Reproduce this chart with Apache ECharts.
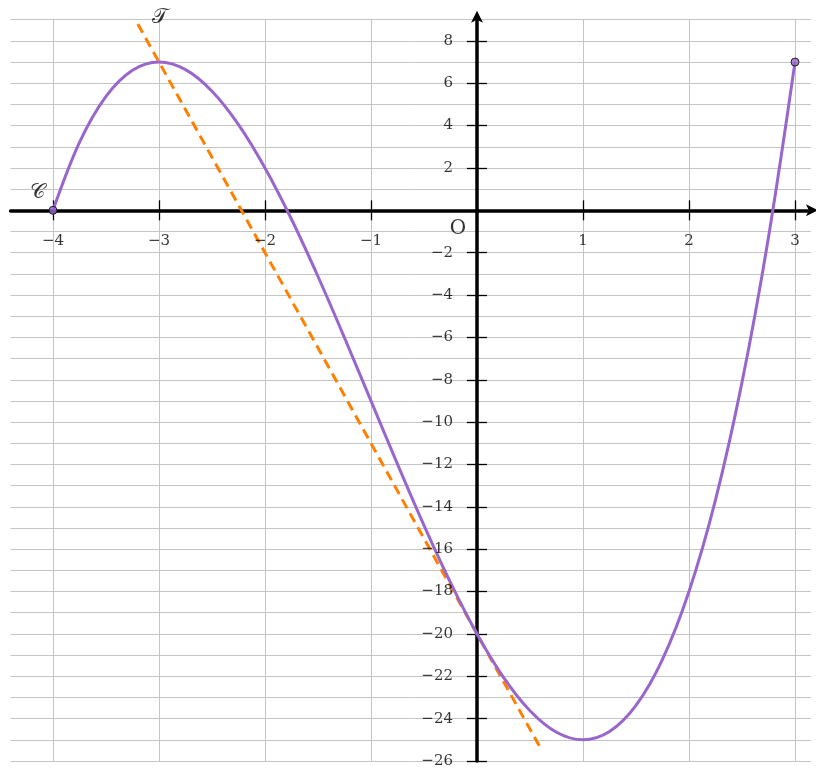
<!DOCTYPE html>
<html>
<head>
<meta charset="utf-8">
<script src="https://cdn.jsdelivr.net/npm/echarts@6/dist/echarts.min.js"></script>
<style>html,body{margin:0;padding:0;background:#fff}#c{width:816px;height:769px}</style>
</head>
<body>
<div id="c"></div>
<script>
const curveX = [-4, -3.75, -3.5, -3.25, -3, -2.75, -2.5, -2.25, -2, -1.75, -1.5, -1.25, -1, -0.75, -0.5, -0.25, 0, 0.25, 0.5, 0.75, 1, 1.25, 1.5, 1.75, 2, 2.25, 2.5, 2.75, 3];
const curveY = [0, 3.203, 5.375, 6.609, 7, 6.641, 5.625, 4.047, 2, -0.422, -3.125, -6.016, -9, -11.984, -14.875, -17.578, -20, -22.047, -23.625, -24.641, -25, -24.609, -23.375, -21.203, -18, -13.672, -8.125, -1.266, 7];
// Tangent T (dashed)
const tangentX = [-3.2, 0.6];
const tangentY = [8.8, -25.4];
// Marked end points
const pointX = [-4, 3];
const pointY = [0, 7];
// Tick labels
const xTicks = [-4, -3, -2, -1, 1, 2, 3];
const yTicks = [-26, -24, -22, -20, -18, -16, -14, -12, -10, -8, -6, -4, -2, 2, 4, 6, 8];

const PURPLE = '#9966cc';
const ORANGE = '#ff7f00';
const SERIF = 'DejaVu Serif';
const fmt = v => String(v).replace('-', '\u2212');

const chart = echarts.init(document.getElementById('c'), null, {renderer: 'canvas'});
const tickStyle = {color: '#000', width: 1.3};
const gridColor = '#c4c4c4';

const hiddenLabelSymbol = {symbol: 'circle', symbolSize: 1, itemStyle: {color: 'rgba(0,0,0,0)'}};

chart.setOption({
  animation: false,
  backgroundColor: '#fff',
  grid: {left: 10.6, top: 19.7, width: 800.3, height: 741.3, containLabel: false, outerBoundsMode: 'none'},
  xAxis: [{
    type: 'value', min: -4.4, max: 3.15, position: 'bottom',
    axisLine: {show: true, onZero: true, symbol: ['none', 'arrow'], symbolSize: [9, 12], symbolOffset: [0, 7],
      lineStyle: {color: '#000', width: 3.5}},
    axisTick: {show: true, customValues: xTicks, length: 10, inside: false, lineStyle: tickStyle},
    axisLabel: {show: false},
    splitLine: {show: true, lineStyle: {color: gridColor, width: 1}}
  }, {
    type: 'value', min: -4.4, max: 3.15, position: 'top',
    axisLine: {show: true, onZero: true, lineStyle: {color: '#000', width: 0, opacity: 0}},
    axisTick: {show: true, customValues: xTicks, length: 10, inside: false, lineStyle: tickStyle},
    axisLabel: {show: false},
    splitLine: {show: false}
  }],
  yAxis: [{
    type: 'value', min: -26, max: 9, position: 'left',
    axisLine: {show: true, onZero: true, symbol: ['none', 'arrow'], symbolSize: [9, 12], symbolOffset: [0, 9],
      lineStyle: {color: '#000', width: 3.5}},
    axisTick: {show: true, customValues: yTicks, length: 10, inside: false, lineStyle: tickStyle},
    axisLabel: {show: false},
    splitLine: {show: false}
  }, {
    type: 'value', min: -26, max: 9, position: 'right',
    axisLine: {show: true, onZero: true, lineStyle: {color: '#000', width: 0, opacity: 0}},
    axisTick: {show: true, customValues: yTicks, length: 10, inside: false, lineStyle: tickStyle},
    axisLabel: {show: false},
    splitLine: {show: false}
  }, {
    type: 'value', min: -26, max: 9, interval: 1, position: 'right',
    axisLine: {show: false, onZero: false},
    axisTick: {show: false},
    axisLabel: {show: false},
    splitLine: {show: true, lineStyle: {color: gridColor, width: 1}},
    z: 0
  }],
  series: [{
    name: 'T', type: 'line', xAxisIndex: 0, yAxisIndex: 0,
    data: tangentX.map((x, i) => [x, tangentY[i]]),
    symbol: 'none',
    lineStyle: {color: ORANGE, width: 3, type: [10, 6]},
    z: 3
  }, {
    name: 'C', type: 'line', xAxisIndex: 0, yAxisIndex: 0,
    data: curveX.map((x, i) => [x, curveY[i]]),
    smooth: 0.35, symbol: 'none',
    lineStyle: {color: PURPLE, width: 3},
    z: 4
  }, {
    name: 'ends', type: 'scatter', xAxisIndex: 0, yAxisIndex: 0,
    data: pointX.map((x, i) => [x, pointY[i]]),
    symbol: 'circle', symbolSize: 8,
    itemStyle: {color: PURPLE, borderColor: '#000', borderWidth: 1},
    z: 5
  }, Object.assign({
    name: 'xlabels', type: 'scatter', xAxisIndex: 0, yAxisIndex: 0, silent: true,
    data: xTicks.map(x => [x, 0]),
    label: {show: true, position: 'inside', offset: [0, 31], formatter: p => fmt(p.value[0]),
      color: '#000', textBorderWidth: 0, fontFamily: SERIF, fontSize: 15},
    z: 6
  }, hiddenLabelSymbol), Object.assign({
    name: 'ylabels', type: 'scatter', xAxisIndex: 0, yAxisIndex: 0, silent: true,
    data: yTicks.map(y => [0, y]),
    label: {show: true, position: 'inside', align: 'right', offset: [-24, 0], formatter: p => fmt(p.value[1]),
      color: '#000', textBorderWidth: 0, fontFamily: SERIF, fontSize: 15},
    z: 6
  }, hiddenLabelSymbol), Object.assign({
    name: 'names', type: 'scatter', xAxisIndex: 0, yAxisIndex: 0, silent: true,
    data: [
      {value: [curveX[0], curveY[0]], label: {formatter: '\u{1D49E}', offset: [-16, -18]}},
      {value: [tangentX[0], tangentY[0]], label: {formatter: '\u{1D4AF}', offset: [22, -6]}},
      {value: [0, 0], label: {formatter: 'O', offset: [-19, 18], fontSize: 20}}
    ],
    label: {show: true, position: 'inside', color: '#000', textBorderWidth: 0, fontFamily: SERIF, fontSize: 21},
    z: 6
  }, hiddenLabelSymbol)]
});
</script>
</body>
</html>
